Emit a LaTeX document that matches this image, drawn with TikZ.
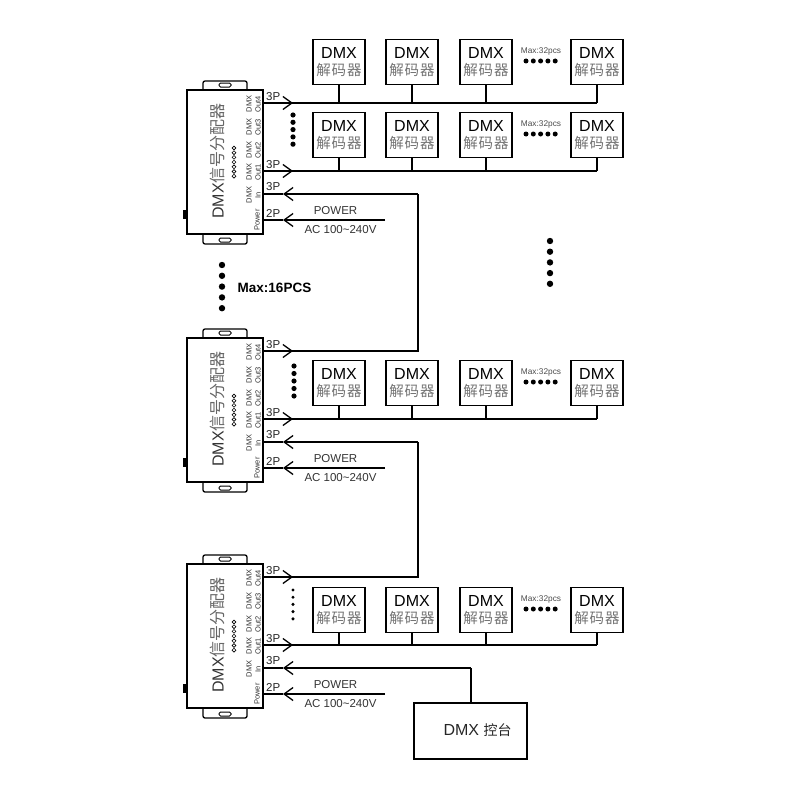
\documentclass[tikz,border=0pt]{standalone}
\usepackage{fontspec}
\setmainfont{Liberation Sans}
\newfontfamily\cjk{Noto Sans CJK SC}
\usetikzlibrary{arrows.meta}
\tikzset{
  wire/.style={line width=1.3pt},
  barb/.style={line width=1.3pt, -{Straight Barb[length=9pt,width=13pt,line width=1.3pt]}},
  decoder/.style={draw, line width=1.3pt, minimum width=52pt, minimum height=45pt, inner sep=0pt, align=center, font=\fontsize{16}{16}\selectfont},
  distbox/.style={draw, line width=1.3pt, minimum width=76pt, minimum height=144pt, inner sep=0pt},
  portlabel/.style={font=\fontsize{11.5}{11.5}\selectfont, text=black!85, inner sep=0pt},
  tinylabel/.style={rotate=90, align=center, font=\fontsize{7.5}{9}\selectfont, text=black!80, inner sep=0pt},
  powerlabel/.style={font=\fontsize{11.5}{11.5}\selectfont, text=black!80, inner sep=0pt}
}
\begin{document}
\begin{tikzpicture}[x=1pt,y=-1pt]
  \useasboundingbox (0,0) rectangle (800,800);

  % distributors
  \foreach \nm/\dy in {a/0, b/248, c/474} {
    \node[distbox] (\nm) at (225,162+\dy) {};
    \draw[wire, rounded corners=2pt] (203,90+\dy) -- (203,81+\dy) -- (247,81+\dy) -- (247,90+\dy);
    \draw[wire, rounded corners=2pt] (203,234+\dy) -- (203,244+\dy) -- (247,244+\dy) -- (247,234+\dy);
    \draw[line width=1pt, rounded corners=1.5pt, fill=white] (219,83+\dy) rectangle (231,87+\dy);
    \draw[line width=1pt, rounded corners=1.5pt, fill=white] (219,238+\dy) rectangle (231,242+\dy);
    \fill (183,210+\dy) rectangle (187,219+\dy);
    \node[rotate=90, text=black!80, inner sep=0pt, font=\fontsize{16}{16}\selectfont] (\nm title) at (217.5,161+\dy) {DMX{\cjk\color{black!60}信号分配器}};
    \foreach \i in {0,...,6}
      \draw[line width=0.6pt] (234,148+4.7*\i+\dy) circle (1.9pt);
    \node[tinylabel] (\nm lout4) at (253.5,104+\dy) {DMX\\Out4};
    \node[tinylabel] (\nm lout3) at (253.5,127+\dy) {DMX\\Out3};
    \node[tinylabel] (\nm lout2) at (253.5,150+\dy) {DMX\\Out2};
    \node[tinylabel] (\nm lout1) at (253.5,172+\dy) {DMX\\Out1};
    \node[tinylabel] (\nm lin) at (253.5,195+\dy) {DMX\\In};
    \node[tinylabel] (\nm lpow) at (257,220+\dy) {Power};

    \coordinate (\nm out4) at (263,103+\dy);
    \coordinate (\nm out1) at (263,171+\dy);
    \coordinate (\nm in) at (263,194+\dy);
    \coordinate (\nm pow) at (263,220+\dy);
    \coordinate (\nm powend) at (385,220+\dy);
    \coordinate (\nm tipout4) at (293,103+\dy);
    \coordinate (\nm tipout1) at (293,171+\dy);
    \coordinate (\nm tipin) at (283,194+\dy);
    \coordinate (\nm tippow) at (283,220+\dy);

    \draw[barb] (\nm out4) -- (\nm tipout4);
    \draw[barb] (\nm out1) -- (\nm tipout1);
    \draw[wire] (\nm tipin) -- (\nm in);
    \draw[barb] (\nm powend) -- (\nm tippow);
    \draw[wire] (\nm tippow) -- (\nm pow);

    \node[portlabel, anchor=south west] (\nm p4) at (266,101+\dy) {3P};
    \node[portlabel, anchor=south west] (\nm p1) at (266,169+\dy) {3P};
    \node[portlabel, anchor=south west] (\nm pi) at (266,191+\dy) {3P};
    \node[portlabel, anchor=south west] (\nm pp) at (266,218+\dy) {2P};
    \node[powerlabel] (\nm power) at (335.5,211+\dy) {POWER};
    \node[powerlabel] (\nm ac) at (340.5,230+\dy) {AC 100\textasciitilde240V};
  }

  % decoders and their bus lines
  \foreach \rw/\cy/\port in {1/62/aout4, 2/135/aout1, 3/383/bout1, 4/610/cout1} {
    \foreach \col/\cx in {1/339, 2/412, 3/486, 4/597} {
      \node[decoder] (r\rw-\col) at (\cx,\cy) {DMX\\[1.5pt]{\cjk\fontsize{14.5}{15}\selectfont\color{black!55}解\hspace{1pt}码\hspace{1pt}器}};
      \draw[wire] (r\rw-\col.south) -- (r\rw-\col.south |- \port);
    }
    \draw[wire] (\port) -- (r\rw-4.south |- \port);
    \node[inner sep=0pt, text=black!70, font=\fontsize{8.3}{8.3}\selectfont] (max\rw) at (541,\cy-11) {Max:32pcs};
    \foreach \i in {0,...,4}
      \fill (526+7.3*\i,\cy-1) circle (2.5pt);
  }

  % links between the distributors
  \coordinate (benda) at (418,194);
  \coordinate (bendb) at (418,442);
  \coordinate (bendc) at (471,668);
  \node[draw, line width=1.3pt, minimum width=113pt, minimum height=56pt, inner sep=0pt] (console) at (470.5,731) {};
  \node[inner sep=0pt, font=\fontsize{16}{16}\selectfont, text=black!85] (consolelabel) at (477.5,730) {DMX {\cjk\fontsize{14}{14}\selectfont 控台}};
  \draw[wire] (bout4) -| (benda);
  \draw[barb] (benda) -- (atipin);
  \draw[wire] (cout4) -| (bendb);
  \draw[barb] (bendb) -- (btipin);
  \draw[wire] (console.north -| bendc) -- (bendc);
  \draw[barb] (bendc) -- (ctipin);

  % dots
  \foreach \i in {0,...,4} {
    \fill (293,115+7.3*\i) circle (2.6pt);
    \fill (294,366+7.5*\i) circle (2.6pt);
    \fill (293,590+7.2*\i) circle (1.7pt);
    \fill (222,265+10.8*\i) circle (3.2pt);
    \fill (550,241+10.7*\i) circle (3.2pt);
  }
  \node[inner sep=0pt, font=\bfseries\fontsize{13.5}{14}\selectfont] (maxdist) at (274.5,288) {Max:16PCS};
\end{tikzpicture}
\end{document}
